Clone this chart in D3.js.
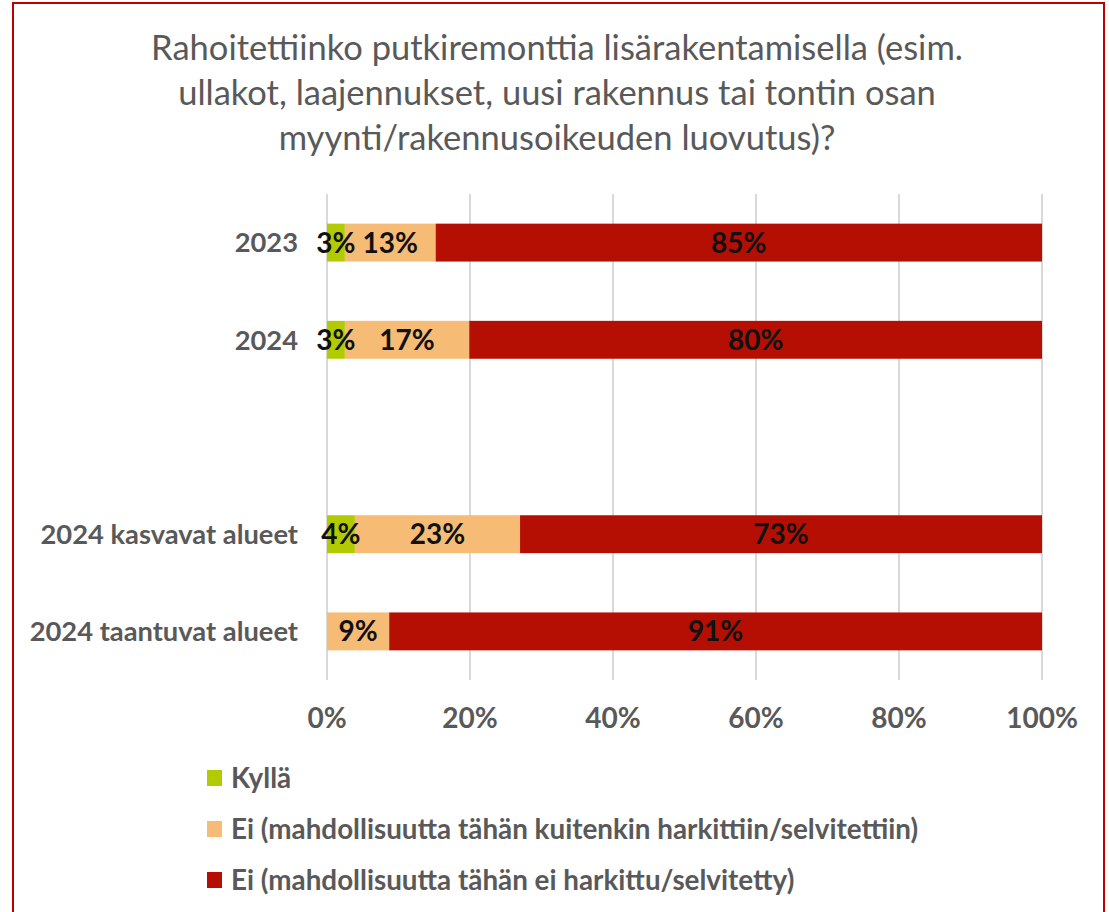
<!DOCTYPE html>
<html>
<head>
<meta charset="utf-8">
<script src="https://cdn.jsdelivr.net/npm/d3@7"></script>
<style>
  body { margin: 0; background: #fff; }
  text { font-family: Lato, "Open Sans", sans-serif; }
</style>
</head>
<body>
<div id="chart"></div>
<script>
// categories (blank one is the gap between groups)
var categories = ["2023", "2024", " ", "2024 kasvavat alueet", "2024 taantuvat alueet"];
var seriesNames = [
    "Kyllä",
    "Ei (mahdollisuutta tähän kuitenkin harkittiin/selvitettiin)",
    "Ei (mahdollisuutta tähän ei harkittu/selvitetty)"
];
var kylla   = [2.5, 2.5, null, 3.9, 0];
var eiHark  = [12.7, 17.4, null, 23.1, 8.7];
var eiEi    = [84.8, 80.1, null, 73.0, 91.3];
var tickValues = [0, 20, 40, 60, 80, 100];
var titleLines = [
    "Rahoitettiinko putkiremonttia lisärakentamisella (esim.",
    "ullakot, laajennukset, uusi rakennus tai tontin osan",
    "myynti/rakennusoikeuden luovutus)?"
];

var colors = ["#b1cb00", "#f6bb74", "#b40f02"];
var grey = "#595959";

var width = 1109, height = 912;

var svg = d3.select("#chart").append("svg")
    .attr("width", width)
    .attr("height", height);

svg.append("rect").attr("width", width).attr("height", height).attr("fill", "#fff");

// red frame
svg.append("rect")
    .attr("x", 13).attr("y", 3)
    .attr("width", 1091).attr("height", 930)
    .attr("fill", "none")
    .attr("stroke", "#c00000")
    .attr("stroke-width", 2);

// title
svg.append("g").selectAll("text")
    .data(titleLines)
    .enter().append("text")
    .attr("x", 557)
    .attr("y", function(d, i) { return 60 + i * 45; })
    .attr("text-anchor", "middle")
    .attr("fill", grey)
    .style("font-size", "34.5px")
    .text(function(d) { return d; });

// scales
var x = d3.scaleLinear().domain([0, 100]).range([327, 1042]);
var y = d3.scaleBand().domain(categories).range([194, 680]).paddingInner(0.61).paddingOuter(0.305);

// grid
svg.append("g").selectAll("line")
    .data(tickValues)
    .enter().append("line")
    .attr("x1", function(d) { return x(d); })
    .attr("x2", function(d) { return x(d); })
    .attr("y1", 194).attr("y2", 680)
    .attr("stroke", "#d9d9d9")
    .attr("stroke-width", 2);

// stacked data
var rows = categories.map(function(c, i) {
    return { cat: c, v: [kylla[i], eiHark[i], eiEi[i]] };
}).filter(function(r) { return r.v[0] !== null; });

var segs = [];
rows.forEach(function(r) {
    var start = 0;
    r.v.forEach(function(v, k) {
        segs.push({ cat: r.cat, k: k, x0: start, x1: start + v, v: v });
        start += v;
    });
});

svg.append("g").selectAll("rect")
    .data(segs.filter(function(s) { return s.v > 0; }))
    .enter().append("rect")
    .attr("x", function(d) { return x(d.x0); })
    .attr("width", function(d) { return x(d.x1) - x(d.x0); })
    .attr("y", function(d) { return y(d.cat); })
    .attr("height", y.bandwidth())
    .attr("fill", function(d) { return colors[d.k]; });

// value labels
svg.append("g").selectAll("text")
    .data(segs.filter(function(s) { return s.v > 0; }))
    .enter().append("text")
    .attr("x", function(d) { return x((d.x0 + d.x1) / 2); })
    .attr("y", function(d) { return y(d.cat) + y.bandwidth() / 2; })
    .attr("dy", "0.36em")
    .attr("text-anchor", "middle")
    .attr("fill", "#111")
    .style("font-size", "28px")
    .style("font-weight", "bold")
    .text(function(d) { return Math.round(d.v) + "%"; });

// category labels
svg.append("g").selectAll("text")
    .data(rows)
    .enter().append("text")
    .attr("x", 298)
    .attr("y", function(d) { return y(d.cat) + y.bandwidth() / 2; })
    .attr("dy", "0.36em")
    .attr("text-anchor", "end")
    .attr("fill", grey)
    .style("font-size", "27.3px")
    .style("font-weight", "bold")
    .text(function(d) { return d.cat; });

// x tick labels
svg.append("g").selectAll("text")
    .data(tickValues)
    .enter().append("text")
    .attr("x", function(d) { return x(d); })
    .attr("y", 718)
    .attr("dy", "0.36em")
    .attr("text-anchor", "middle")
    .attr("fill", grey)
    .style("font-size", "28px")
    .style("font-weight", "bold")
    .text(function(d) { return d + "%"; });

// legend
var legend = svg.append("g").selectAll("g")
    .data(seriesNames)
    .enter().append("g")
    .attr("transform", function(d, i) { return "translate(207," + (778 + i * 51) + ")"; });

legend.append("rect")
    .attr("x", 0).attr("y", -8)
    .attr("width", 15).attr("height", 16)
    .attr("fill", function(d, i) { return colors[i]; });

legend.append("text")
    .attr("x", 24)
    .attr("dy", "0.36em")
    .attr("fill", grey)
    .style("font-size", "27.8px")
    .style("font-weight", "bold")
    .text(function(d) { return d; });
</script>
</body>
</html>
